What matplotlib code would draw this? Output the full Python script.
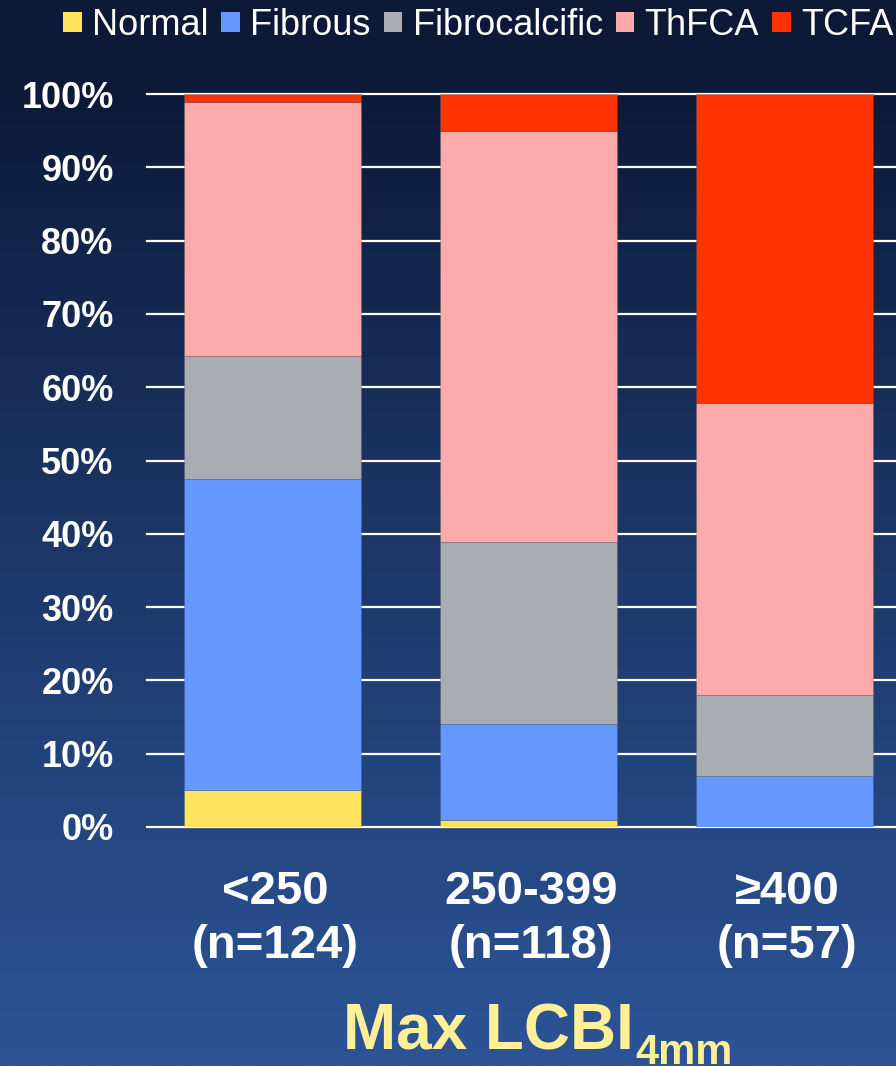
"""Plaque phenotype by max LCBI4mm group, stacked to 100%."""
import numpy as np
import matplotlib
matplotlib.use("Agg")
import matplotlib.pyplot as plt
from matplotlib.patches import Patch

plt.rcParams["font.family"] = ["Liberation Sans", "DejaVu Sans"]

# data (percent of plaques in each group)
categories = ["<250\n(n=124)", "250-399\n(n=118)", "\u2265400\n(n=57)"]
normal = [5.0, 1.0, 0.0]
fibrous = [42.5, 13.0, 7.0]
fibrocalcific = [16.8, 24.9, 11.0]
thfca = [34.6, 56.1, 39.8]
tcfa = [1.1, 5.0, 42.2]
y_ticks = [0, 10, 20, 30, 40, 50, 60, 70, 80, 90, 100]

series = [
    ("Normal", normal, "#FFE35E"),
    ("Fibrous", fibrous, "#6699FF"),
    ("Fibrocalcific", fibrocalcific, "#A9ACB1"),
    ("ThFCA", thfca, "#FFAAAA"),
    ("TCFA", tcfa, "#FF3300"),
]

W, H = 896, 1066
fig = plt.figure(figsize=(W / 100, H / 100), dpi=100)

# background gradient
bg = fig.add_axes([0, 0, 1, 1], zorder=-10)
t = np.linspace(0, 1, 400)[:, None]
top = np.array([12, 25, 55]) / 255
bot = np.array([44, 84, 150]) / 255
frac = np.clip((t - 0.08) / 0.92, 0, 1) ** 0.9
grad = top + (bot - top) * frac[..., None]
grad = np.repeat(grad, 2, axis=1)
bg.imshow(grad, aspect="auto", extent=[0, 1, 0, 1])
bg.axis("off")

ax = fig.add_axes([147 / W, (H - 827) / H, 768 / W, 733 / H])
ax.set_facecolor("none")

x = np.arange(len(categories))
bottom = np.zeros(len(categories))
for name, vals, color in series:
    ax.bar(x - 0.01, vals, 0.69, bottom=bottom, color=color, label=name,
           edgecolor=(0.25, 0.3, 0.45, 0.3), linewidth=0.6, zorder=3)
    bottom += np.array(vals)

ax.set_xlim(-0.5, 2.5)
ax.set_ylim(0, 100)
ax.set_yticks(y_ticks)
ax.set_yticklabels([f"{v}%" for v in y_ticks])
ax.set_xticks(x)
ax.set_xticklabels(categories, linespacing=1.3)
ax.yaxis.grid(True, color="white", linewidth=1.6)
ax.set_axisbelow(True)
for gl in ax.get_ygridlines():
    gl.set_clip_on(False)
for s in ax.spines.values():
    s.set_visible(False)
ax.tick_params(axis="y", length=0, pad=24, labelsize=26, labelcolor="white")
ax.tick_params(axis="x", length=0, pad=31, labelsize=34, labelcolor="white")
for lab in ax.get_yticklabels() + ax.get_xticklabels():
    lab.set_fontweight("bold")

handles = [Patch(facecolor=c, label=n) for n, _, c in series]
fig.legend(handles=handles, loc="upper left", bbox_to_anchor=(63 / W, 1 - 8 / H),
           ncol=5, frameon=False, fontsize=26, labelcolor="white",
           handlelength=0.52, handleheight=0.5, handletextpad=0.28,
           columnspacing=0.36, borderpad=0, borderaxespad=0)

# axis title with subscript
title_color = "#FFEF99"
t1 = fig.text(343 / W, 1 - 1050 / H, "Max LCBI", fontsize=46, fontweight="bold",
              color=title_color, ha="left", va="baseline")
fig.canvas.draw()
bb = t1.get_window_extent()
fig.text((bb.x1 + 1) / W, 1 - 1064 / H, "4mm", fontsize=30, fontweight="bold",
         color=title_color, ha="left", va="baseline")

fig.savefig("out.png", dpi=100)
